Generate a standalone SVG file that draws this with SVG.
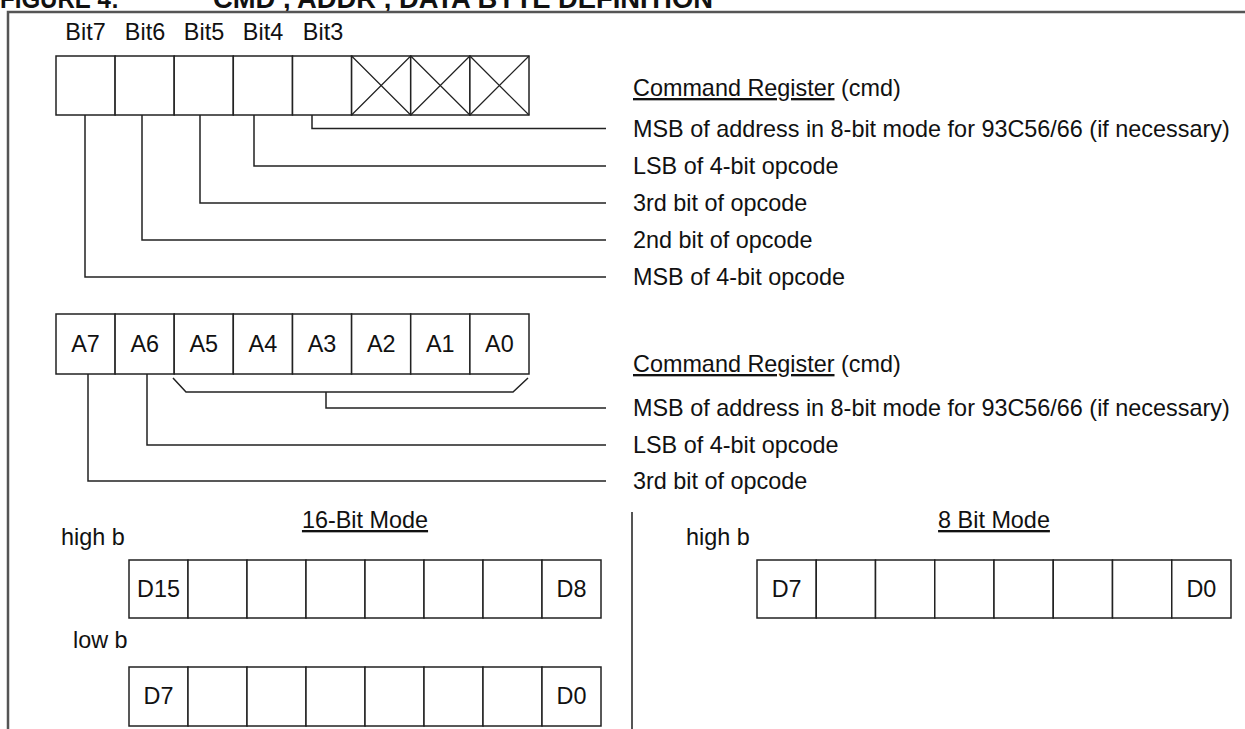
<svg xmlns="http://www.w3.org/2000/svg" width="1245" height="729" viewBox="0 0 1245 729">
<style>
text{font-family:"Liberation Sans",Arial,sans-serif;font-size:23.4px;fill:#111}
.c{text-anchor:middle}
.t{font-weight:bold;font-size:27px}
.cell{fill:#fff;stroke:#222;stroke-width:1.5}
.x{stroke:#222;stroke-width:1.2;fill:none}
.ln{fill:none;stroke:#222;stroke-width:1.5}
.frame{fill:none;stroke:#555;stroke-width:2.5}
.u{text-decoration:underline}
</style>
<rect width="1245" height="729" fill="#fff"/>
<g id="title">
<text class="t" x="0" y="8" textLength="119" lengthAdjust="spacingAndGlyphs">FIGURE 4:</text>
<text class="t" x="213" y="8" textLength="500" lengthAdjust="spacingAndGlyphs">CMD , ADDR , DATA BYTE DEFINITION</text>
</g>
<path class="frame" d="M8,729 V12 H1245"/>
<path class="frame" d="M632,512 V729" style="stroke-width:2"/>

<g id="cmd-register">
<text class="c" x="85.5" y="40">Bit7</text>
<text class="c" x="145" y="40">Bit6</text>
<text class="c" x="204" y="40">Bit5</text>
<text class="c" x="263" y="40">Bit4</text>
<text class="c" x="323" y="40">Bit3</text>
<rect class="cell" x="56" y="56" width="59.1" height="59"/>
<rect class="cell" x="115.1" y="56" width="59.1" height="59"/>
<rect class="cell" x="174.2" y="56" width="59.1" height="59"/>
<rect class="cell" x="233.3" y="56" width="59.2" height="59"/>
<rect class="cell" x="292.5" y="56" width="59.1" height="59"/>
<rect class="cell" x="351.6" y="56" width="59.1" height="59"/>
<rect class="cell" x="410.7" y="56" width="59.2" height="59"/>
<rect class="cell" x="469.9" y="56" width="59.1" height="59"/>
<path class="x" d="M351.6,56 L410.7,115 M410.7,56 L351.6,115 M410.7,56 L469.9,115 M469.9,56 L410.7,115 M469.9,56 L529,115 M529,56 L469.9,115"/>
</g>

<g id="cmd-labels">
<text x="633" y="96"><tspan class="u">Command Register</tspan> (cmd)</text>
<text x="633" y="136.5">MSB of address in 8-bit mode for 93C56/66 (if necessary)</text>
<text x="633" y="174">LSB of 4-bit opcode</text>
<text x="633" y="211">3rd bit of opcode</text>
<text x="633" y="248">2nd bit of opcode</text>
<text x="633" y="285">MSB of 4-bit opcode</text>
</g>

<g id="addr-register">
<rect class="cell" x="56" y="314" width="59.1" height="60"/>
<rect class="cell" x="115.1" y="314" width="59.1" height="60"/>
<rect class="cell" x="174.2" y="314" width="59.1" height="60"/>
<rect class="cell" x="233.3" y="314" width="59.2" height="60"/>
<rect class="cell" x="292.5" y="314" width="59.1" height="60"/>
<rect class="cell" x="351.6" y="314" width="59.1" height="60"/>
<rect class="cell" x="410.7" y="314" width="59.2" height="60"/>
<rect class="cell" x="469.9" y="314" width="59.1" height="60"/>
<text class="c" x="85.5" y="352">A7</text>
<text class="c" x="144.7" y="352">A6</text>
<text class="c" x="203.8" y="352">A5</text>
<text class="c" x="262.9" y="352">A4</text>
<text class="c" x="322" y="352">A3</text>
<text class="c" x="381.2" y="352">A2</text>
<text class="c" x="440.3" y="352">A1</text>
<text class="c" x="499.4" y="352">A0</text>
</g>

<g id="addr-labels">
<text x="633" y="372"><tspan class="u">Command Register</tspan> (cmd)</text>
<text x="633" y="416">MSB of address in 8-bit mode for 93C56/66 (if necessary)</text>
<text x="633" y="453">LSB of 4-bit opcode</text>
<text x="633" y="489">3rd bit of opcode</text>
</g>

<g id="connectors">
<path class="ln" d="M312,115 V128.5 H606"/>
<path class="ln" d="M254,115 V166 H606"/>
<path class="ln" d="M200,115 V203 H606"/>
<path class="ln" d="M142,115 V240 H606"/>
<path class="ln" d="M85,115 V277 H606"/>
<path class="ln" d="M173,378 L186,392 H513 L528,378"/>
<path class="ln" d="M326,392 V408 H606"/>
<path class="ln" d="M147,374 V445 H606"/>
<path class="ln" d="M88,374 V481 H606"/>
</g>

<g id="data-16bit">
<text class="c" x="365" y="528"><tspan class="u">16-Bit Mode</tspan></text>
<text x="61" y="545">high b</text>
<text x="73" y="648">low b</text>
<g id="data-16bit-high">
<rect class="cell" x="129" y="560" width="59" height="58"/>
<rect class="cell" x="188" y="560" width="59" height="58"/>
<rect class="cell" x="247" y="560" width="59" height="58"/>
<rect class="cell" x="306" y="560" width="59" height="58"/>
<rect class="cell" x="365" y="560" width="59" height="58"/>
<rect class="cell" x="424" y="560" width="59" height="58"/>
<rect class="cell" x="483" y="560" width="59" height="58"/>
<rect class="cell" x="542" y="560" width="59" height="58"/>
<text class="c" x="158.5" y="597">D15</text>
<text class="c" x="571.5" y="597">D8</text>
</g>
<g id="data-16bit-low">
<rect class="cell" x="129" y="667" width="59" height="59"/>
<rect class="cell" x="188" y="667" width="59" height="59"/>
<rect class="cell" x="247" y="667" width="59" height="59"/>
<rect class="cell" x="306" y="667" width="59" height="59"/>
<rect class="cell" x="365" y="667" width="59" height="59"/>
<rect class="cell" x="424" y="667" width="59" height="59"/>
<rect class="cell" x="483" y="667" width="59" height="59"/>
<rect class="cell" x="542" y="667" width="59" height="59"/>
<text class="c" x="158.5" y="704">D7</text>
<text class="c" x="571.5" y="704">D0</text>
</g>
</g>

<g id="data-8bit">
<text class="c" x="994" y="528"><tspan class="u">8 Bit Mode</tspan></text>
<text x="686" y="545">high b</text>
<rect class="cell" x="757" y="560" width="59.25" height="58"/>
<rect class="cell" x="816.25" y="560" width="59.25" height="58"/>
<rect class="cell" x="875.5" y="560" width="59.25" height="58"/>
<rect class="cell" x="934.75" y="560" width="59.25" height="58"/>
<rect class="cell" x="994" y="560" width="59.25" height="58"/>
<rect class="cell" x="1053.25" y="560" width="59.25" height="58"/>
<rect class="cell" x="1112.5" y="560" width="59.25" height="58"/>
<rect class="cell" x="1171.75" y="560" width="59.25" height="58"/>
<text class="c" x="786.6" y="597">D7</text>
<text class="c" x="1201.4" y="597">D0</text>
</g>
</svg>
